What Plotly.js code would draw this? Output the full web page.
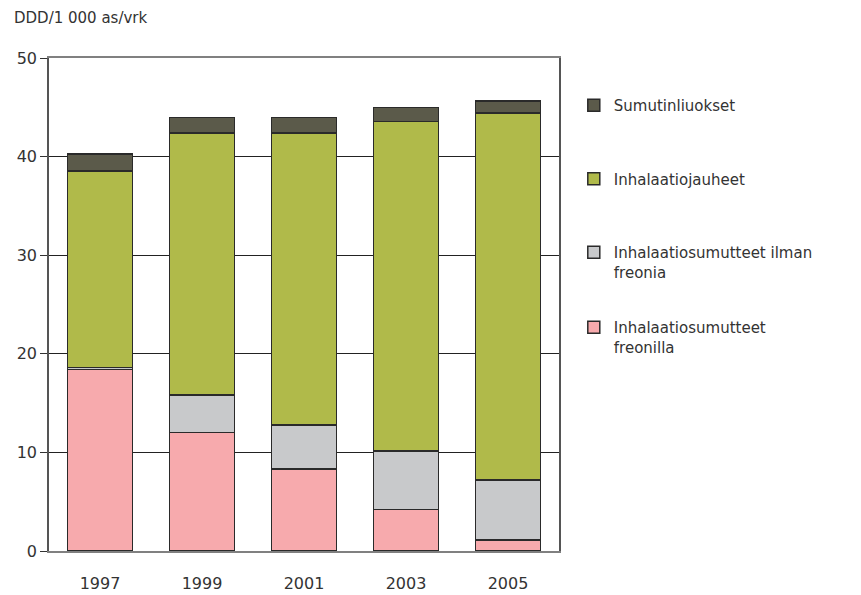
<!DOCTYPE html>
<html><head><meta charset="utf-8">
<script src="https://cdn.plot.ly/plotly-3.0.1.min.js"></script>
<style>body{margin:0;background:#fff}#c{width:861px;height:595px}</style>
</head><body><div id="c"></div>
<script>
const years = ['1997','1999','2001','2003','2005'];
const freonilla = [18.4, 12.0, 8.3, 4.2, 1.1];
const ilmanFreonia = [0.2, 3.8, 4.5, 5.95, 6.1];
const jauheet = [19.95, 26.6, 29.6, 33.4, 37.2];
const sumutinliuokset = [1.7, 1.55, 1.55, 1.45, 1.25];
const names = ['Inhalaatiosumutteet<br>freonilla','Inhalaatiosumutteet ilman<br>freonia','Inhalaatiojauheet','Sumutinliuokset'];
const series = [freonilla, ilmanFreonia, jauheet, sumutinliuokset];
const colors = ['#f7aaad','#c8c9cb','#b0ba4a','#5b5a4a'];
const traces = series.map((s,i)=>({
  type:'bar', x:years, y:s, name:names[i], legendgroup:'g'+i, legendrank:4-i,
  legend: i===0 ? 'legend2' : 'legend',
  marker:{color:colors[i], line:{color:'#2a2a2a', width:1.5}},
  hoverinfo:'y'
}));
const legFont = {size:15, color:'#333'};
const layout = {
  width:861, height:595,
  margin:{l:49, r:302, t:58, b:44},
  barmode:'stack', bargap:0.36,
  paper_bgcolor:'#fff', plot_bgcolor:'#fff',
  font:{family:'DejaVu Sans, Verdana, sans-serif', size:15, color:'#333'},
  xaxis:{type:'category', showline:true, linecolor:'#808080', linewidth:2, mirror:true, ticks:'',
         ticklabelstandoff:17, tickfont:{size:16}},
  yaxis:{range:[0,50], dtick:10, showline:true, linecolor:'#555', linewidth:1.5, mirror:true,
         ticks:'outside', ticklen:7, tickcolor:'#333', gridcolor:'#222', gridwidth:1, tickfont:{size:16}, zeroline:false},
  legend:{x:1.029, xanchor:'left', y:0.937, yanchor:'top', traceorder:'grouped', tracegroupgap:51,
          valign:'top', font:legFont},
  legend2:{x:1.029, xanchor:'left', y:0.487, yanchor:'top', valign:'top', font:legFont},
  showlegend:true,
  annotations:[{text:'DDD/1 000 as/vrk', xref:'paper', yref:'paper', x:-0.0725, y:1.081, xanchor:'left', yanchor:'middle',
    showarrow:false, font:{size:15, color:'#333'}}]
};
Plotly.newPlot('c', traces, layout, {displayModeBar:false});
</script></body></html>
